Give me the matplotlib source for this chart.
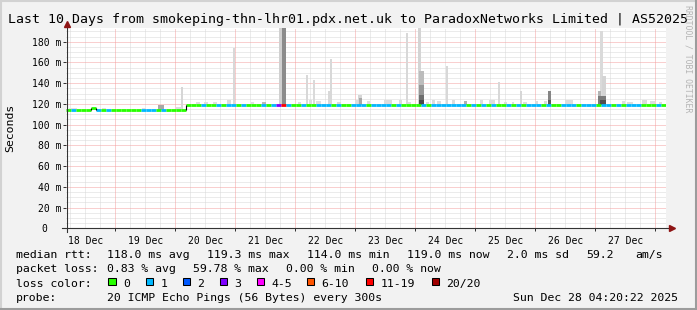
#!/usr/bin/env python3

# SmokePing style "last 10 days" latency graph, redrawn with matplotlib

from datetime import datetime, timedelta

import numpy as np
import matplotlib
matplotlib.use('Agg')
import matplotlib.pyplot as plt
import matplotlib.dates as mdates
from matplotlib.patches import Rectangle
from matplotlib.lines import Line2D
from matplotlib.transforms import Affine2D

W, H = 697, 310

title = "Last 10 Days from smokeping-thn-lhr01.pdx.net.uk to ParadoxNetworks Limited | AS52025"
t_start = datetime(2025, 12, 18, 4, 20, 22)
t_end = datetime(2025, 12, 28, 4, 20, 22)
bin_hours = 2

# median rtt per 2 hour bin (ms)
median_ms = [
    114.0, 114.0, 114.0, 114.0, 114.0, 115.6, 114.0, 114.0, 114.0, 114.0, 114.0, 114.0,
    114.0, 114.0, 114.0, 114.0, 114.0, 114.0, 114.0, 114.0, 114.0, 114.0, 114.0, 114.0,
    119.3, 119.3, 119.3, 119.3, 119.3, 119.3, 119.3, 119.3, 119.3, 119.3, 119.3, 119.3,
    119.3, 119.3, 119.3, 119.3, 119.3, 119.3, 119.3, 119.3, 119.3, 119.3, 119.3, 119.3,
    119.3, 119.3, 119.3, 119.3, 119.3, 119.3, 119.3, 119.3, 119.3, 119.3, 119.3, 119.3,
    119.3, 119.3, 119.3, 119.3, 119.3, 119.3, 119.3, 119.3, 119.3, 119.3, 119.3, 119.3,
    119.3, 119.3, 119.3, 119.3, 119.3, 119.3, 119.3, 119.3, 119.3, 119.3, 119.3, 119.3,
    119.3, 119.3, 119.3, 119.3, 119.3, 119.3, 119.3, 119.3, 119.3, 119.3, 119.3, 119.3,
    119.3, 119.3, 119.3, 119.3, 119.3, 119.3, 119.3, 119.3, 119.3, 119.3, 119.3, 119.3,
    119.3, 119.3, 119.3, 119.3, 119.3, 119.3, 119.3, 119.3, 119.3, 119.3, 119.3, 119.0,
]

# lost pings (of 20) per bin
loss_pings = [
    0, 1, 0, 0, 0, 0, 1, 0, 1, 0, 0, 0,
    0, 0, 0, 1, 1, 1, 0, 1, 0, 0, 0, 0,
    0, 0, 0, 1, 0, 0, 1, 0, 1, 1, 0, 1,
    0, 0, 0, 1, 0, 1, 3, 12, 1, 0, 0, 1,
    0, 0, 1, 1, 1, 0, 1, 0, 0, 1, 1, 1,
    0, 1, 1, 1, 1, 0, 1, 0, 0, 0, 0, 1,
    0, 1, 1, 1, 1, 1, 1, 1, 0, 1, 0, 1,
    0, 1, 0, 0, 1, 0, 1, 0, 1, 1, 1, 0,
    1, 0, 0, 1, 1, 1, 0, 1, 1, 1, 0, 1,
    1, 0, 1, 0, 1, 1, 1, 0, 0, 0, 1, 0,
]

loss_labels = ["0", "1", "2", "3", "4-5", "6-10", "11-19", "20/20"]
loss_upper = [0, 1, 2, 3, 5, 10, 19, 20]
loss_colors = ['#26ff00', '#00b8ff', '#0059ff', '#7e00ff',
               '#ff00ff', '#ff5500', '#ff0000', '#a10000']

# smoke: time, width (hours), top of smoke (ms), grey level
smoke_time = [
    "2025-12-18 07:12", "2025-12-18 19:24", "2025-12-19 11:24", "2025-12-19 18:12",
    "2025-12-20 01:24", "2025-12-20 02:40", "2025-12-20 09:12", "2025-12-20 12:12",
    "2025-12-20 16:00", "2025-12-20 21:36", "2025-12-20 23:24", "2025-12-21 06:48",
    "2025-12-21 11:36", "2025-12-21 18:00", "2025-12-21 19:30", "2025-12-22 01:36",
    "2025-12-22 04:41", "2025-12-22 06:00", "2025-12-22 07:24", "2025-12-22 09:12",
    "2025-12-22 13:24", "2025-12-22 14:24", "2025-12-22 17:36", "2025-12-23 00:24",
    "2025-12-23 02:00", "2025-12-23 02:00", "2025-12-23 05:12", "2025-12-23 13:00",
    "2025-12-23 18:00", "2025-12-23 20:36", "2025-12-23 21:48", "2025-12-24 01:48",
    "2025-12-24 02:24", "2025-12-24 02:24", "2025-12-24 02:24", "2025-12-24 02:24",
    "2025-12-24 04:40", "2025-12-24 07:12", "2025-12-24 09:36", "2025-12-24 12:41",
    "2025-12-24 15:12", "2025-12-24 20:00", "2025-12-25 02:36", "2025-12-25 06:36",
    "2025-12-25 09:36", "2025-12-25 12:00", "2025-12-25 15:00", "2025-12-25 18:24",
    "2025-12-25 19:48", "2025-12-26 00:24", "2025-12-26 04:00", "2025-12-26 05:36",
    "2025-12-26 05:36", "2025-12-26 13:36", "2025-12-27 01:48", "2025-12-27 02:36",
    "2025-12-27 03:36", "2025-12-27 02:48", "2025-12-27 03:12", "2025-12-27 11:12",
    "2025-12-27 14:00", "2025-12-27 19:36", "2025-12-27 22:48", "2025-12-28 02:00",
]
smoke_hours = [
    3.2, 1.6, 1.6, 2.4,
    2.4, 0.8, 1.6, 1.6,
    1.6, 1.6, 0.8, 1.2,
    1.6, 1.4, 1.7, 1.2,
    0.8, 1.2, 0.8, 2.0,
    0.8, 0.8, 1.6, 1.2,
    1.6, 1.2, 1.2, 3.2,
    1.2, 0.8, 1.2, 1.2,
    2.0, 2.0, 2.0, 2.0,
    1.2, 1.2, 1.6, 0.8,
    1.2, 1.2, 1.2, 2.4,
    0.8, 1.2, 0.8, 0.8,
    1.6, 1.0, 1.2, 1.2,
    1.2, 3.2, 1.2, 1.2,
    1.6, 3.2, 2.4, 1.2,
    2.4, 2.0, 2.0, 1.2,
]
smoke_top = [
    116.0, 116.0, 116.0, 119.0,
    117.0, 136.7, 122.0, 122.0,
    121.5, 123.5, 173.7, 121.5,
    122.0, 200.0, 200.0, 122.0,
    148.0, 124.0, 143.0, 123.0,
    132.0, 163.0, 122.0, 124.0,
    128.6, 125.5, 123.0, 124.0,
    124.0, 188.8, 122.0, 200.0,
    151.5, 138.3, 128.6, 124.0,
    122.0, 124.0, 123.0, 156.9,
    124.0, 123.0, 124.0, 124.0,
    141.5, 122.0, 122.0, 132.0,
    122.0, 123.0, 123.0, 132.0,
    124.0, 124.0, 132.0, 190.4,
    147.0, 127.5, 124.0, 123.0,
    122.0, 124.0, 123.0, 122.0,
]
smoke_gray = [
    '#e2e2e2', '#e0e0e0', '#e0e0e0', '#a8a8a8',
    '#dcdcdc', '#d6d6d6', '#dedede', '#dedede',
    '#e0e0e0', '#dcdcdc', '#d8d8d8', '#e0e0e0',
    '#b8b8b8', '#d0d0d0', '#8c8c8c', '#dedede',
    '#d8d8d8', '#dedede', '#dadada', '#e0e0e0',
    '#d8d8d8', '#d8d8d8', '#dcdcdc', '#dcdcdc',
    '#d6d6d6', '#a8a8a8', '#dedede', '#dcdcdc',
    '#dcdcdc', '#d8d8d8', '#dedede', '#d4d4d4',
    '#bcbcbc', '#989898', '#6e6e6e', '#4a4a4a',
    '#dedede', '#dcdcdc', '#dedede', '#d8d8d8',
    '#dcdcdc', '#b0b0b0', '#dcdcdc', '#dcdcdc',
    '#d8d8d8', '#dedede', '#dedede', '#d6d6d6',
    '#dedede', '#dcdcdc', '#dcdcdc', '#858585',
    '#5a5a5a', '#dcdcdc', '#b4b4b4', '#dadada',
    '#d4d4d4', '#7a7a7a', '#505050', '#dedede',
    '#dedede', '#dcdcdc', '#dedede', '#dedede',
]

y_ticks = [0, 20, 40, 60, 80, 100, 120, 140, 160, 180]
day_labels = ["18 Dec", "19 Dec", "20 Dec", "21 Dec", "22 Dec",
              "23 Dec", "24 Dec", "25 Dec", "26 Dec", "27 Dec"]

rtt_fields = ["118.0 ms avg", "119.3 ms max", "114.0 ms min", "119.0 ms now",
              "2.0 ms sd", "59.2", "am/s"]
loss_fields = ["0.83 % avg", "59.78 % max", "0.00 % min", "0.00 % now"]
probe_text = "20 ICMP Echo Pings (56 Bytes) every 300s"
stamp = "Sun Dec 28 04:20:22 2025"


def loss_color(n):
    for up, c in zip(loss_upper, loss_colors):
        if n <= up:
            return c
    return loss_colors[-1]


plt.rcParams['font.family'] = 'DejaVu Sans Mono'

fig = plt.figure(figsize=(W / 100, H / 100), dpi=100, facecolor='#f2f2f2')
# pixel coordinates, origin top-left
pix = Affine2D().scale(1.0 / W, -1.0 / H).translate(0, 1) + fig.transFigure

ax_l, ax_r, ax_t, ax_b = 66.3, 666.3, 28.0, 228.3
ax = fig.add_axes([ax_l / W, 1 - ax_b / H, (ax_r - ax_l) / W, (ax_b - ax_t) / H])
ax.set_facecolor('white')
for s in ax.spines.values():
    s.set_visible(False)

ymax = 193.2
ax.set_xlim(mdates.date2num(t_start), mdates.date2num(t_end))
ax.set_ylim(0, ymax)

# grid
dot = (0, (1, 1))
for v in np.arange(5, ymax, 5):
    if v % 20:
        ax.axhline(v, color='#d8d8d8', lw=0.72, ls=dot, zorder=0.5)
    else:
        ax.axhline(v, color='#f4a0a0', lw=0.72, ls=dot, zorder=0.6)
t = datetime(2025, 12, 18, 6)
while t < t_end:
    if t.hour == 0:
        ax.axvline(mdates.date2num(t), color='#f4a0a0', lw=0.72, ls=dot, zorder=0.6)
    else:
        ax.axvline(mdates.date2num(t), color='#d8d8d8', lw=0.72, ls=dot, zorder=0.5)
    t += timedelta(hours=6)

# bins
x0 = mdates.date2num([t_start + timedelta(hours=bin_hours * i) for i in range(len(median_ms))])
x1 = x0 + bin_hours / 24.0

# smoke, tallest first so the darker short parts sit on top
order = np.argsort(smoke_top, kind='stable')[::-1]
for k in order:
    tk = mdates.date2num(datetime.strptime(smoke_time[k], "%Y-%m-%d %H:%M"))
    i = min(int((tk - x0[0]) * 24 // bin_hours), len(median_ms) - 1)
    base = median_ms[i]
    ax.bar(tk, smoke_top[k] - base, bottom=base, width=smoke_hours[k] / 24.0,
           color=smoke_gray[k], lw=0, zorder=2)

# median line coloured by loss
ax.hlines(median_ms, x0, x1, colors=[loss_color(n) for n in loss_pings],
          lw=2.0, capstyle='butt', zorder=3)
for i in range(1, len(median_ms)):
    if median_ms[i] != median_ms[i - 1]:
        ax.vlines(x0[i], median_ms[i - 1], median_ms[i], color='black', lw=0.8, zorder=3)

# x labels at noon, ticks at midnight
noons = [datetime(2025, 12, 18 + d, 12) for d in range(len(day_labels))]
ax.set_xticks(mdates.date2num(noons))
ax.set_xticklabels(day_labels, fontsize=7.0)
ax.set_xticks(mdates.date2num([datetime(2025, 12, 19 + d) for d in range(10)]), minor=True)
ax.tick_params(axis='x', which='major', length=0, pad=5.2)
ax.tick_params(axis='x', which='minor', length=2.2, width=0.72, color='#333333')
ax.set_yticks(y_ticks)
ax.set_yticklabels([])
ax.tick_params(axis='y', which='major', length=2.2, width=0.72, color='#333333')

for v in y_ticks:
    lab = "0" if v == 0 else "%d m" % v
    off = -18.8 if v == 0 else -5.3
    ax.annotate(lab, xy=(0, v), xycoords=('axes fraction', 'data'),
                xytext=(off, 0), textcoords='offset pixels',
                ha='right', va='center_baseline', fontsize=7.0)

# axes lines and arrows
fig.add_artist(Line2D([62, 670], [228.3, 228.3], transform=pix, color='#333333', lw=0.8))
fig.add_artist(Line2D([66.5, 66.5], [231.5, 25], transform=pix, color='#333333', lw=0.8))
fig.add_artist(Line2D([671.5], [228.3], transform=pix, marker='>', ms=4.2,
                      color='#8e1414', lw=0))
fig.add_artist(Line2D([66.5], [24.0], transform=pix, marker='^', ms=4.2,
                      color='#8e1414', lw=0))

# title and side texts
fig.text(348.5, 23.3, title, transform=pix, ha='center', va='baseline', fontsize=9.55)
fig.text(10, 128, "Seconds", transform=pix, rotation=90, ha='center', va='center', fontsize=8.25)
fig.text(688, 59, "RRDTOOL / TOBI OETIKER", transform=pix, rotation=270,
         ha='center', va='center', fontsize=5.9, color='#b4b4b4')

# legend
fs = 8.25
fig.text(16, 258.3, "median rtt:", transform=pix, va='baseline', fontsize=fs)
for s, x in zip(rtt_fields, [107.3, 207.3, 307.3, 407.3, 507.3, 586, 635]):
    fig.text(x, 258.3, s, transform=pix, va='baseline', fontsize=fs)
fig.text(16, 272.5, "packet loss:", transform=pix, va='baseline', fontsize=fs)
for s, x in zip(loss_fields, [107.3, 193.3, 285.7, 371.7]):
    fig.text(x, 272.5, s, transform=pix, va='baseline', fontsize=fs)
fig.text(16, 286.7, "loss color:", transform=pix, va='baseline', fontsize=fs)
box_x = [108.3, 145.7, 182.7, 219.7, 256.7, 306.7, 365.7, 431.5]
for lab, c, bx in zip(loss_labels, loss_colors, box_x):
    fig.add_artist(Rectangle((bx, 277.6), 7.4, 7.4, transform=pix,
                             facecolor=c, edgecolor='black', lw=0.75))
    fig.text(bx + 14.6, 286.7, lab, transform=pix, va='baseline', fontsize=fs)
fig.text(16, 300.8, "probe:", transform=pix, va='baseline', fontsize=fs)
fig.text(107.3, 300.8, probe_text, transform=pix, va='baseline', fontsize=fs)
fig.text(513.3, 300.8, stamp, transform=pix, va='baseline', fontsize=fs)

# 3d frame
fig.add_artist(Line2D([0, W], [1, 1], transform=pix, color='#d2d2d2', lw=1.5))
fig.add_artist(Line2D([1, 1], [0, H], transform=pix, color='#d2d2d2', lw=1.5))
fig.add_artist(Line2D([0, W], [H - 1, H - 1], transform=pix, color='#9c9c9c', lw=1.5))
fig.add_artist(Line2D([W - 1, W - 1], [0, H], transform=pix, color='#9c9c9c', lw=1.5))

fig.savefig('out.png', dpi=100, facecolor=fig.get_facecolor())
